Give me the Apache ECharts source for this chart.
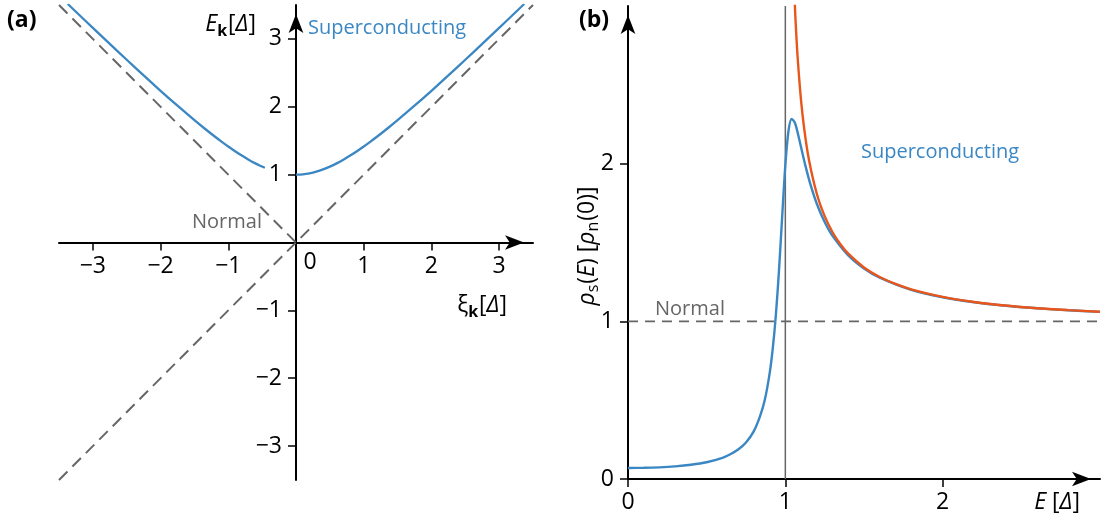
<!DOCTYPE html>
<html><head><meta charset="utf-8">
<script src="https://cdn.jsdelivr.net/npm/echarts@6/dist/echarts.min.js"></script>
<style>html,body{margin:0;padding:0;background:#fff}#c{width:1103px;height:523px}</style>
</head><body><div id="c"></div>
<script>
// ---------- Panel (a): dispersion ----------
const xiLeft  = [-3.37, -3.2, -3.0, -2.75, -2.5, -2.25, -2.0, -1.75, -1.5, -1.35, -1.2, -1.1, -1.0, -0.9, -0.8, -0.7, -0.6, -0.53, -0.46];
const eLeft   = [3.515, 3.353, 3.162, 2.926, 2.693, 2.462, 2.236, 2.016, 1.803, 1.680, 1.562, 1.487, 1.414, 1.345, 1.281, 1.221, 1.166, 1.132, 1.101];
const xiRight = [0, 0.1, 0.2, 0.3, 0.4, 0.5, 0.6, 0.7, 0.8, 0.9, 1.0, 1.1, 1.2, 1.35, 1.5, 1.75, 2.0, 2.25, 2.5, 2.75, 3.0, 3.2, 3.37];
const eRight  = [1.0, 1.005, 1.020, 1.044, 1.077, 1.118, 1.166, 1.221, 1.281, 1.345, 1.414, 1.487, 1.562, 1.680, 1.803, 2.016, 2.236, 2.462, 2.693, 2.926, 3.162, 3.353, 3.515];
const normalRiseX = [-3.5, 3.5];
const normalRiseY = [-3.5, 3.5];
const normalFallX = [-3.5, 0];
const normalFallY = [3.5, 0];
const ticksA = [-3, -2, -1, 1, 2, 3];

// ---------- Panel (b): density of states ----------
const energyS = [0, 0.1, 0.2, 0.3, 0.4, 0.5, 0.6, 0.65, 0.7, 0.75, 0.8, 0.84, 0.87, 0.9, 0.92, 0.94, 0.96, 0.98, 1.0, 1.02, 1.04, 1.06, 1.08, 1.1, 1.13, 1.16, 1.2, 1.25, 1.3, 1.4, 1.5, 1.6, 1.8, 2.0, 2.2, 2.4, 2.6, 2.8, 3.0];
const rhoS    = [0.070, 0.071, 0.074, 0.080, 0.090, 0.106, 0.134, 0.157, 0.187, 0.232, 0.304, 0.400, 0.504, 0.668, 0.827, 1.043, 1.328, 1.666, 1.990, 2.207, 2.284, 2.261, 2.190, 2.104, 1.978, 1.867, 1.746, 1.630, 1.542, 1.418, 1.335, 1.277, 1.200, 1.153, 1.121, 1.099, 1.083, 1.070, 1.060];
const energyBCS = [1.05, 1.06, 1.07, 1.08, 1.1, 1.12, 1.15, 1.2, 1.25, 1.3, 1.35, 1.4, 1.5, 1.6, 1.7, 1.8, 2.0, 2.2, 2.4, 2.6, 2.8, 3.0];
const rhoBCS    = [3.280, 3.015, 2.811, 2.648, 2.400, 2.221, 2.025, 1.809, 1.667, 1.565, 1.489, 1.429, 1.342, 1.281, 1.237, 1.203, 1.155, 1.123, 1.100, 1.083, 1.071, 1.061];
const normalLevelX = [0, 3];
const normalLevelY = [1, 1];
const gapEdgeX = [1, 1];
const gapEdgeY = [0, 3];
const ticksB = [0, 1, 2];

const pairs = (xs, ys) => xs.map((x, i) => [x, ys[i]]);

const BLUE = '#3a87c3';
const ORANGE = '#e8561b';
const GRAY = '#666666';
const FONT = 'Open Sans';

function axisCommon(ticks, margin, extra) {
  return Object.assign({
    type: 'value',
    splitLine: { show: false },
    axisLine: { show: true, onZero: false, symbol: ['none', 'arrow'], symbolSize: [11, 19], symbolOffset: [0, -9],
      lineStyle: { color: '#000', width: 2 } },
    axisTick: { show: true, length: 8, customValues: ticks, lineStyle: { color: '#000', width: 1.5 } },
    axisLabel: { show: true, customValues: ticks, margin: margin, color: '#000', fontFamily: FONT, fontSize: 23,
      formatter: v => (v < 0 ? '\u2212' + Math.abs(v) : String(v)) }
  }, extra);
}

const chart = echarts.init(document.getElementById('c'), null, { renderer: 'canvas' });

const richBase = {
  n: { fontFamily: FONT, fontSize: 23, color: '#000' },
  i: { fontFamily: FONT, fontSize: 23, fontStyle: 'italic', color: '#000' },
  sb: { fontFamily: FONT, fontSize: 16, fontWeight: 'bold', color: '#000', padding: [14, 1, 0, 0] },
  s: { fontFamily: FONT, fontSize: 16, color: '#000', padding: [13, 1, 0, 0] }
};

const lineSeries = (xi, yi, data, style, z, smooth) => ({
  type: 'line', xAxisIndex: xi, yAxisIndex: yi, data: data, smooth: smooth || false,
  showSymbol: false, symbol: 'none', lineStyle: style, z: z, silent: true
});

chart.setOption({
  animation: false,
  backgroundColor: '#fff',
  grid: [
    { left: 59, top: 5, width: 474, height: 475 },
    { left: 628, top: 6, width: 472, height: 473 }
  ],
  xAxis: [
    axisCommon(ticksA, 12, { gridIndex: 0, min: -3.5, max: 3.5, position: 'bottom', offset: -237.5 }),
    axisCommon(ticksB, 12, { gridIndex: 1, min: 0, max: 3 })
  ],
  yAxis: [
    axisCommon(ticksA, 14, { gridIndex: 0, min: -3.5, max: 3.5, position: 'left', offset: -237 }),
    axisCommon(ticksB, 14, { gridIndex: 1, min: 0, max: 3 })
  ],
  series: [
    lineSeries(0, 0, pairs(normalRiseX, normalRiseY), { color: GRAY, width: 2, type: [12, 7] }, 2),
    lineSeries(0, 0, pairs(normalFallX, normalFallY), { color: GRAY, width: 2, type: [12, 7] }, 2),
    lineSeries(0, 0, pairs(xiLeft, eLeft), { color: BLUE, width: 2.3 }, 3, 0.3),
    lineSeries(0, 0, pairs(xiRight, eRight), { color: BLUE, width: 2.3 }, 3, 0.3),

    lineSeries(1, 1, pairs(normalLevelX, normalLevelY), { color: GRAY, width: 1.6, type: [10, 7] }, 2),
    lineSeries(1, 1, pairs(gapEdgeX, gapEdgeY), { color: GRAY, width: 1.5 }, 2),
    lineSeries(1, 1, pairs(energyS, rhoS), { color: BLUE, width: 2.4 }, 3, 0.3),
    lineSeries(1, 1, pairs(energyBCS, rhoBCS), { color: ORANGE, width: 2.4 }, 4, 0.3)
  ],
  graphic: [
    { type: 'text', x: 7, y: 20, style: { text: '(a)', fontFamily: FONT, fontSize: 23, fontWeight: 'bold', fill: '#000', verticalAlign: 'middle' } },
    { type: 'text', x: 579, y: 20, style: { text: '(b)', fontFamily: FONT, fontSize: 23, fontWeight: 'bold', fill: '#000', verticalAlign: 'middle' } },
    { type: 'text', x: 256, y: 24, style: { text: '{i|E}{sb|k}{n|[}{i|\u0394}{n|]}', rich: richBase, align: 'right', verticalAlign: 'middle' } },
    { type: 'text', x: 308, y: 28, style: { text: 'Superconducting', fontFamily: FONT, fontSize: 20, fill: BLUE, verticalAlign: 'middle' } },
    { type: 'text', x: 192, y: 222, style: { text: 'Normal', fontFamily: FONT, fontSize: 20, fill: GRAY, verticalAlign: 'middle' } },
    { type: 'text', x: 310, y: 262, style: { text: '0', fontFamily: FONT, fontSize: 23, fill: '#000', align: 'center', verticalAlign: 'middle' } },
    { type: 'text', x: 507, y: 305, style: { text: '{n|\u03be}{sb|k}{n|[}{i|\u0394}{n|]}', rich: richBase, align: 'right', verticalAlign: 'middle' } },
    { type: 'text', x: 655, y: 309, style: { text: 'Normal', fontFamily: FONT, fontSize: 20, fill: GRAY, verticalAlign: 'middle' } },
    { type: 'text', x: 861, y: 152, style: { text: 'Superconducting', fontFamily: FONT, fontSize: 20, fill: BLUE, verticalAlign: 'middle' } },
    { type: 'text', x: 1080, y: 502, style: { text: '{i|E}{n| [}{i|\u0394}{n|]}', rich: richBase, align: 'right', verticalAlign: 'middle' } },
    { type: 'text', x: 587, y: 246, rotation: Math.PI / 2,
      style: { text: '{i|\u03c1}{s|s}{n|(}{i|E}{n|) [}{i|\u03c1}{s|n}{n|(0)]}', rich: richBase, align: 'center', verticalAlign: 'middle' } }
  ]
});
</script>
</body></html>
